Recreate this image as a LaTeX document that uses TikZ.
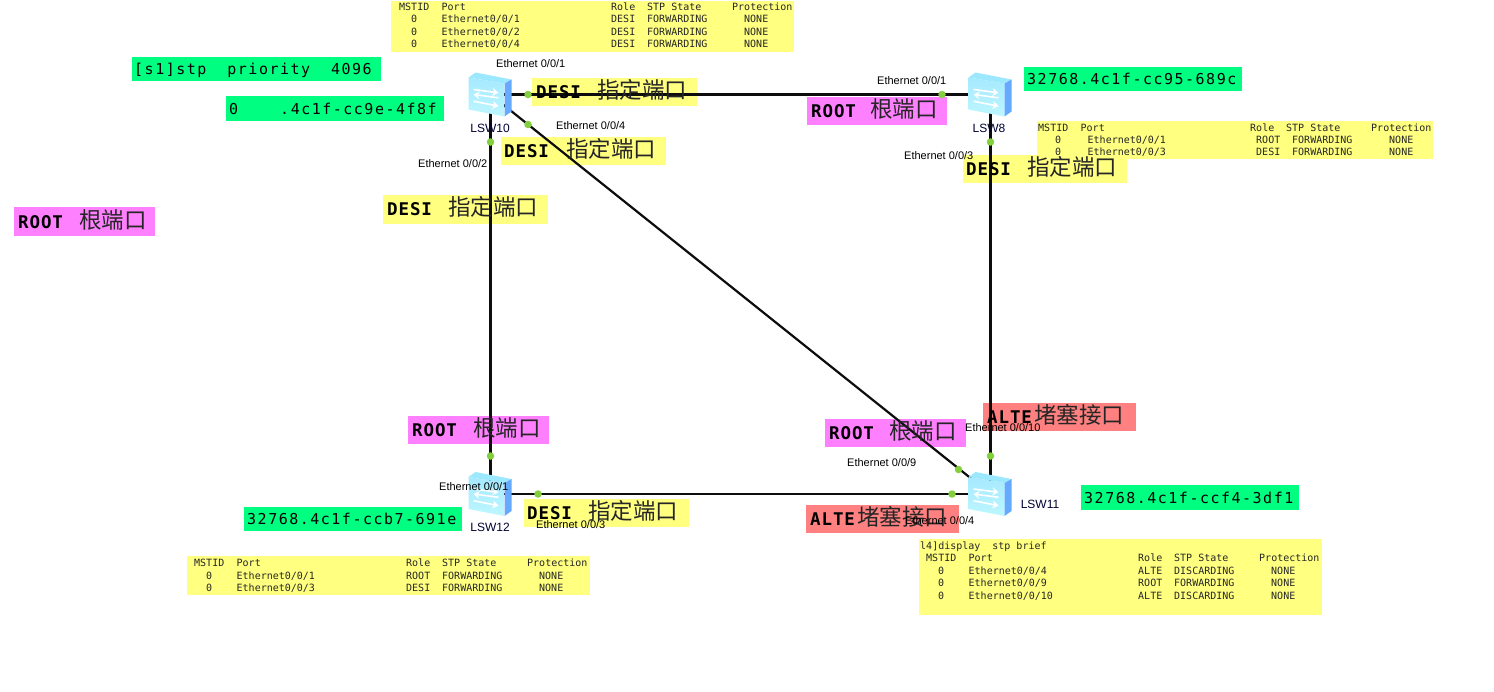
\documentclass[tikz,border=0pt]{standalone}
\usepackage{fontspec}
\usetikzlibrary{arrows.meta}
\setmainfont{Liberation Sans}
\newfontfamily\cjkf{Noto Sans CJK SC}
\newfontfamily\monof{DejaVu Sans Mono}
\newfontfamily\monogreen{DejaVu Sans Mono}[LetterSpace=10]
\newfontfamily\monolab{DejaVu Sans Mono}[LetterSpace=5]
\definecolor{lblyellow}{HTML}{FFFF80}
\definecolor{lblgreen}{HTML}{00FF80}
\definecolor{lblpink}{HTML}{FF80FF}
\definecolor{lblred}{HTML}{FF8080}
\definecolor{portdot}{HTML}{84CF3E}
\definecolor{swfront}{HTML}{BDF7FF}
\definecolor{swfronttop}{HTML}{A6E9FF}
\definecolor{swtop}{HTML}{9CE8FF}
\definecolor{swright}{HTML}{66AAFF}
\newcommand{\Rw}[5]{\makebox[42.5pt][l]{#1}\makebox[169.5pt][l]{#2}\makebox[36pt][l]{#3}\makebox[85pt][l]{#4}\makebox[60pt][l]{#5}}
\tikzset{
  lblbg/.style={anchor=north west, inner sep=0pt, outer sep=0pt, draw=none},
  asciilab/.style={anchor=base west, inner sep=0pt, font=\monolab\bfseries\fontsize{17.5}{19}\selectfont},
  cjklab/.style={anchor=base west, inner sep=0pt, font=\cjkf\fontsize{22.5}{25}\selectfont, text=black!85},
  greenlab/.style={anchor=base west, inner sep=0pt, font=\monogreen\fontsize{15}{17}\selectfont},
  rowtext/.style={anchor=base west, inner sep=0pt, text=black!85, font=\monof\fontsize{10}{12}\selectfont},
  portlab/.style={anchor=base west, inner sep=0pt, font=\fontsize{11}{13}\selectfont},
  swlab/.style={anchor=base, inner sep=0pt, text=black!80!blue, font=\fontsize{12}{14}\selectfont},
  link/.style={line width=2.2pt, draw=black!95},
  dotport/.style={circle, fill=portdot, minimum size=7.5pt, inner sep=0pt},
  switchicon/.pic={
    \fill[swtop] (-22,-17) -- (-15,-22) -- (21,-15) -- (14,-11) -- cycle;
    \shade[top color=swfronttop, bottom color=swfront] (-22,-17) -- (14,-11) -- (14,22) -- (-22,15) -- cycle;
    \fill[swright] (14,-11) -- (21,-15) -- (21,17) -- (14,22) -- cycle;
    \draw[white, line width=1.6pt, -{Stealth[length=6pt,width=8pt]}] (-17,-5) -- (8,-1.7);
    \draw[white, line width=1.6pt, -{Stealth[length=6pt,width=8pt]}] (8,3.3) -- (-17,0);
    \draw[white, line width=1.6pt, -{Stealth[length=6pt,width=8pt]}] (-17,6.7) -- (8,11.7);
  }
}
\begin{document}
\begin{tikzpicture}[x=1pt,y=-1pt]
\useasboundingbox (0,0) rectangle (1494,691);
\fill[white] (0,0) rectangle (1494,691);

% tables
\node[lblbg, fill=lblyellow, minimum width=403pt, minimum height=51pt] (tabA) at (391,1) {};
\node[rowtext] (tabA1) at (399,10) {\Rw{MSTID}{Port}{Role}{STP State}{Protection}};
\node[rowtext] (tabA2) at (399,22) {\Rw{\hspace*{12pt}0}{Ethernet0/0/1}{DESI}{FORWARDING}{\hspace*{12pt}NONE}};
\node[rowtext] (tabA3) at (399,35) {\Rw{\hspace*{12pt}0}{Ethernet0/0/2}{DESI}{FORWARDING}{\hspace*{12pt}NONE}};
\node[rowtext] (tabA4) at (399,47) {\Rw{\hspace*{12pt}0}{Ethernet0/0/4}{DESI}{FORWARDING}{\hspace*{12pt}NONE}};

\node[lblbg, fill=lblyellow, minimum width=396pt, minimum height=38pt] (tabB) at (1037,121) {};
\node[rowtext] (tabB1) at (1038,131) {\Rw{MSTID}{Port}{Role}{STP State}{Protection}};
\node[rowtext] (tabB2) at (1038,143) {\Rw{\hspace*{17pt}0}{\hspace*{7pt}Ethernet0/0/1}{\hspace*{6pt}ROOT}{\hspace*{6pt}FORWARDING}{\hspace*{18pt}NONE}};
\node[rowtext] (tabB3) at (1038,155) {\Rw{\hspace*{17pt}0}{\hspace*{7pt}Ethernet0/0/3}{\hspace*{6pt}DESI}{\hspace*{6pt}FORWARDING}{\hspace*{18pt}NONE}};

\node[lblbg, fill=lblyellow, minimum width=403pt, minimum height=76pt] (tabC) at (919,539) {};
\node[rowtext] (tabC0) at (920,549) {l4]display\hspace{12pt}stp brief};
\node[rowtext] (tabC1) at (926,561) {\Rw{MSTID}{Port}{Role}{STP State}{Protection}};
\node[rowtext] (tabC2) at (926,574) {\Rw{\hspace*{12pt}0}{Ethernet0/0/4}{ALTE}{DISCARDING}{\hspace*{12pt}NONE}};
\node[rowtext] (tabC3) at (926,586) {\Rw{\hspace*{12pt}0}{Ethernet0/0/9}{ROOT}{FORWARDING}{\hspace*{12pt}NONE}};
\node[rowtext] (tabC4) at (926,599) {\Rw{\hspace*{12pt}0}{Ethernet0/0/10}{ALTE}{DISCARDING}{\hspace*{12pt}NONE}};

\node[lblbg, fill=lblyellow, minimum width=403pt, minimum height=39pt] (tabD) at (187,556) {};
\node[rowtext] (tabD1) at (194,566) {\Rw{MSTID}{Port}{Role}{STP State}{Protection}};
\node[rowtext] (tabD2) at (194,579) {\Rw{\hspace*{12pt}0}{Ethernet0/0/1}{ROOT}{FORWARDING}{\hspace*{12pt}NONE}};
\node[rowtext] (tabD3) at (194,591) {\Rw{\hspace*{12pt}0}{Ethernet0/0/3}{DESI}{FORWARDING}{\hspace*{12pt}NONE}};

% green labels
\node[lblbg, fill=lblgreen, minimum width=249pt, minimum height=24pt] (gA) at (132,57) {};
\node[greenlab] (gAt) at (134,74) {[s1]stp\hspace{21pt}priority\hspace{21pt}4096};
\node[lblbg, fill=lblgreen, minimum width=218pt, minimum height=25pt] (gB) at (226,96) {};
\node[greenlab] (gBt) at (229,114) {0\hspace{42pt}.4c1f-cc9e-4f8f};
\node[lblbg, fill=lblgreen, minimum width=218pt, minimum height=24pt] (gC) at (1024,67) {};
\node[greenlab] (gCt) at (1027,84) {32768.4c1f-cc95-689c};
\node[lblbg, fill=lblgreen, minimum width=218pt, minimum height=25pt] (gD) at (1081,485) {};
\node[greenlab] (gDt) at (1084,503) {32768.4c1f-ccf4-3df1};
\node[lblbg, fill=lblgreen, minimum width=218pt, minimum height=24pt] (gE) at (244,507) {};
\node[greenlab] (gEt) at (247,524) {32768.4c1f-ccb7-691e};

% role labels: backgrounds
\node[lblbg, fill=lblyellow, minimum width=165pt, minimum height=28pt] (dA) at (532,78) {};
\node[lblbg, fill=lblyellow, minimum width=165pt, minimum height=28pt] (dB) at (501,137) {};
\node[lblbg, fill=lblyellow, minimum width=165pt, minimum height=29pt] (dC) at (383,195) {};
\node[lblbg, fill=lblyellow, minimum width=164pt, minimum height=28pt] (dD) at (963,155) {};
\node[lblbg, fill=lblyellow, minimum width=165pt, minimum height=28pt] (dE) at (524,499) {};
\node[lblbg, fill=lblpink, minimum width=141pt, minimum height=29pt] (rA) at (14,207) {};
\node[lblbg, fill=lblpink, minimum width=140pt, minimum height=28pt] (rB) at (807,97) {};
\node[lblbg, fill=lblpink, minimum width=141pt, minimum height=28pt] (rC) at (408,416) {};
\node[lblbg, fill=lblpink, minimum width=141pt, minimum height=28pt] (rD) at (825,419) {};
\node[lblbg, fill=lblred, minimum width=153pt, minimum height=28pt] (aA) at (983,403) {};
\node[lblbg, fill=lblred, minimum width=153pt, minimum height=28pt] (aB) at (806,505) {};

% switch centres and links
\coordinate (sw10) at (490.5,94.5);
\coordinate (sw8) at (990.5,94.5);
\coordinate (sw12) at (490.5,494);
\coordinate (sw11) at (990.5,494);
\draw[link] (sw10) -- (sw8);
\draw[link] (sw10) -- (sw12);
\draw[link] (sw10) -- (sw11);
\draw[link] (sw8) -- (sw11);
\draw[link] (sw12) -- (sw11);

% role label text
\node[asciilab] (dAa) at (536,98) {DESI};
\node[cjklab] (dAc) at (597,98) {指定端口};
\node[asciilab] (dBa) at (504,157) {DESI};
\node[cjklab] (dBc) at (566,157) {指定端口};
\node[asciilab] (dCa) at (387,215) {DESI};
\node[cjklab] (dCc) at (448,215) {指定端口};
\node[asciilab] (dDa) at (966,175) {DESI};
\node[cjklab] (dDc) at (1027,175) {指定端口};
\node[asciilab] (dEa) at (527,519) {DESI};
\node[cjklab] (dEc) at (588,519) {指定端口};
\node[asciilab] (rAa) at (18,228) {ROOT};
\node[cjklab] (rAc) at (79,228) {根端口};
\node[asciilab] (rBa) at (811,117) {ROOT};
\node[cjklab] (rBc) at (870,117) {根端口};
\node[asciilab] (rCa) at (412,436) {ROOT};
\node[cjklab] (rCc) at (473,436) {根端口};
\node[asciilab] (rDa) at (829,439) {ROOT};
\node[cjklab] (rDc) at (889,439) {根端口};
\node[asciilab] (aAa) at (987,423) {ALTE};
\node[cjklab] (aAc) at (1034,423) {堵塞接口};
\node[asciilab] (aBa) at (810,525) {ALTE};
\node[cjklab] (aBc) at (857,525) {堵塞接口};

% port dots
\node[dotport] (p1) at (528,94.5) {};
\node[dotport] (p2) at (942,94.5) {};
\node[dotport] (p3) at (490.5,142) {};
\node[dotport] (p4) at (528,124.5) {};
\node[dotport] (p5) at (990.5,142) {};
\node[dotport] (p6) at (490.5,456) {};
\node[dotport] (p7) at (538,494) {};
\node[dotport] (p8) at (952,494) {};
\node[dotport] (p9) at (990.5,456) {};
\node[dotport] (p10) at (958.5,469.5) {};

% switches
\pic at (sw10) {switchicon};
\pic at (sw8) {switchicon};
\pic at (sw12) {switchicon};
\pic at (sw11) {switchicon};
\node[swlab] (nA) at (490,132) {LSW10};
\node[swlab] (nB) at (989,132) {LSW8};
\node[swlab] (nC) at (490,531) {LSW12};
\node[swlab] (nD) at (1040,508) {LSW11};

% port labels
\node[portlab] (eA) at (496,67) {Ethernet 0/0/1};
\node[portlab] (eB) at (556,129) {Ethernet 0/0/4};
\node[portlab] (eC) at (418,167) {Ethernet 0/0/2};
\node[portlab] (eD) at (877,84) {Ethernet 0/0/1};
\node[portlab] (eE) at (904,159) {Ethernet 0/0/3};
\node[portlab] (eF) at (965,431) {Ethernet 0/0/10};
\node[portlab] (eG) at (847,466) {Ethernet 0/0/9};
\node[portlab] (eH) at (905,524) {Ethernet 0/0/4};
\node[portlab] (eI) at (439,490) {Ethernet 0/0/1};
\node[portlab] (eJ) at (536,528) {Ethernet 0/0/3};
\end{tikzpicture}
\end{document}
